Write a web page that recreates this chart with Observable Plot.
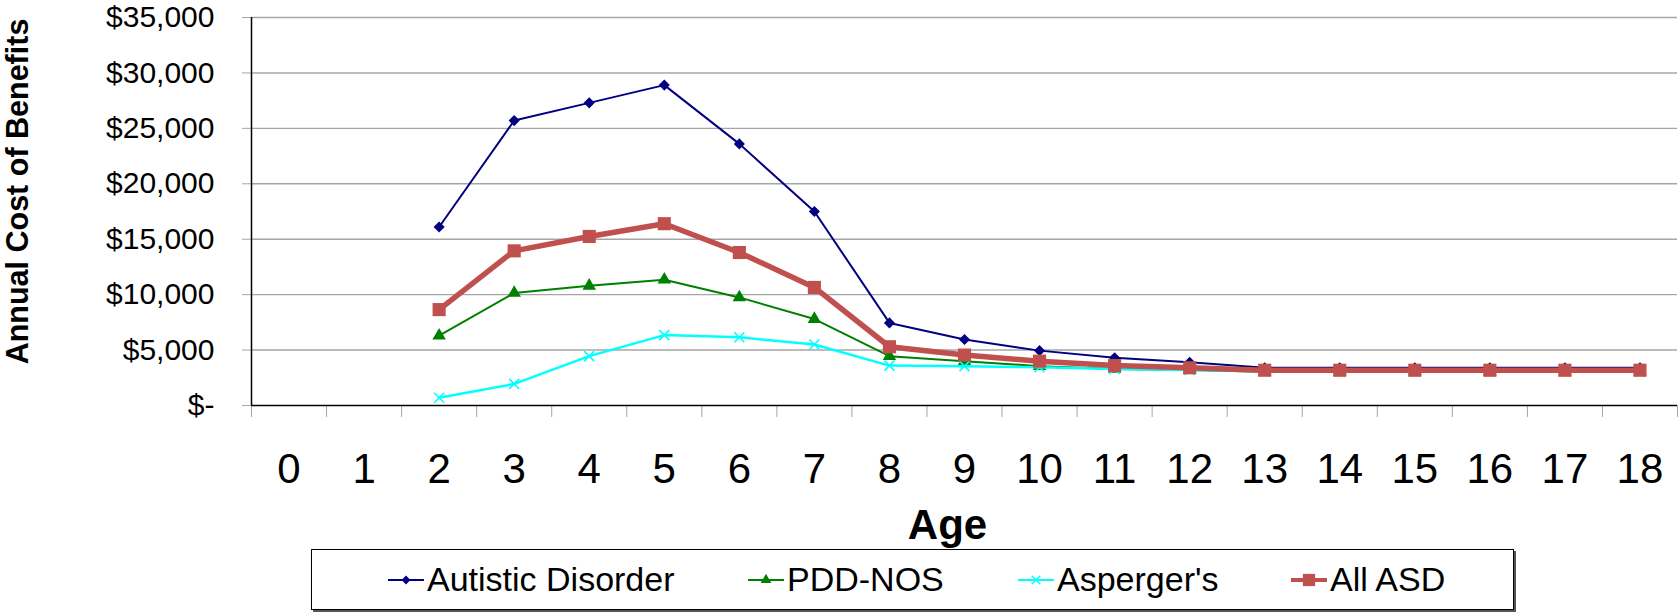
<!DOCTYPE html>
<html><head><meta charset="utf-8">
<script src="https://cdn.jsdelivr.net/npm/d3@7"></script>
<script src="https://cdn.jsdelivr.net/npm/@observablehq/plot@0.6"></script>
<style>
html,body{margin:0;padding:0;background:#fff;}
#wrap{position:relative;width:1680px;height:613px;font-family:"Liberation Sans",Arial,sans-serif;}
#wrap svg.plot{position:absolute;left:0;top:0;}
#legend{position:absolute;left:311px;top:549px;width:1203px;height:61px;border:1px solid #000;box-shadow:2px 2px 0 #555;background:#fff;box-sizing:border-box;}
.item{position:absolute;top:0;height:59px;display:flex;align-items:center;font-size:34px;color:#000;white-space:nowrap;}
.item svg{margin-right:3px;}
</style></head><body><div id="wrap"></div>
<script>
// ---- data ----
const ages = [2,3,4,5,6,7,8,9,10,11,12,13,14,15,16,17,18];
const axisAges = [0,1,2,3,4,5,6,7,8,9,10,11,12,13,14,15,16,17,18];
const seriesNames = ["Autistic Disorder","PDD-NOS","Asperger's","All ASD"];
const autisticDisorder = [16100,25700,27300,28900,23600,17500,7450,5950,4950,4300,3900,3400,3400,3400,3400,3400,3400];
const pddNos          = [6300,10150,10800,11350,9750,7800,4450,4000,3550,3300,3200,3050,3050,3050,3050,3050,3050];
const aspergers       = [700,1950,4450,6350,6150,5500,3600,3550,3450,3300,3200,3100,3100,3100,3100,3100,3100];
const allAsd          = [8650,13950,15250,16400,13800,10650,5300,4550,4000,3600,3400,3180,3180,3180,3180,3180,3180];
const yTicks = [0,5000,10000,15000,20000,25000,30000,35000];
const yTitle = "Annual Cost of Benefits";
const xTitle = "Age";

const valuesBySeries = [autisticDisorder, pddNos, aspergers, allAsd];
const styles = [
  {color:"#000080", width:2,   symbol:"diamond2", r:5.0, filled:true},
  {color:"#008000", width:2,   symbol:"triangle", r:5.0, filled:true},
  {color:"#00FFFF", width:2.5, symbol:"times",    r:4.6, filled:false},
  {color:"#C0504D", width:5.5, symbol:"square",   r:7.4, filled:true}
];
const boundaries = d3.range(-0.5, 19, 1);
const money = v => v === 0 ? "$-" : "$" + d3.format(",")(v);

const marks = [
  Plot.ruleY(yTicks.filter(v => v > 0), {stroke:"#a6a6a6", strokeWidth:1.4}),
  Plot.axisY({ticks: yTicks, tickSize: 9, tickPadding: 28, tickFormat: money, fontSize: 30, stroke:"#a6a6a6", fill:"#000", label:null}),
  Plot.axisX({ticks: boundaries, tickSize: 12, tickFormat: () => "", stroke:"#a6a6a6", label:null}),
  Plot.axisX({ticks: axisAges, tickSize: 0, tickPadding: 48, fontSize: 42, fill:"#000", label:null}),
  Plot.ruleX([-0.5], {stroke:"#000", strokeWidth:1.5}),
  Plot.ruleY([0], {stroke:"#000", strokeWidth:1.5}),
  Plot.text([yTitle], {frameAnchor:"left", rotate:-90, dx:-233, dy:-20, textAnchor:"middle", lineAnchor:"middle", fontSize:30.5, fontWeight:"bold", fill:"#000"}),
  Plot.text([xTitle], {frameAnchor:"bottom", lineAnchor:"top", dy:104, dx:-17, fontSize:42, fontWeight:"bold", fill:"#000"})
];

seriesNames.forEach((name, i) => {
  const data = ages.map((a, j) => ({age:a, value:valuesBySeries[i][j], series:name}));
  const s = styles[i];
  marks.push(Plot.line(data, {x:"age", y:"value", stroke:s.color, strokeWidth:s.width}));
  if (s.filled) {
    marks.push(Plot.dot(data, {x:"age", y:"value", symbol:() => s.symbol, r:s.r, fill:s.color, stroke:"none"}));
  } else {
    marks.push(Plot.dot(data, {x:"age", y:"value", symbol:() => s.symbol, r:s.r, stroke:s.color, strokeWidth:1.6, fill:"none"}));
  }
});

const chart = Plot.plot({
  width:1680, height:613,
  marginLeft:251, marginRight:3, marginTop:17, marginBottom:208,
  style:{fontFamily:"Liberation Sans, Arial, sans-serif", background:"#fff", color:"#000", overflow:"visible"},
  x:{type:"linear", domain:[-0.5,18.5]},
  y:{type:"linear", domain:[0,35000]},
  symbol:{type:"identity"},
  marks
});
chart.classList.add("plot");
const wrap = document.getElementById("wrap");
wrap.appendChild(chart);

// ---- legend ----
const legendX = [76, 436, 706, 979];
const legend = document.createElement("div");
legend.id = "legend";
seriesNames.forEach((name, i) => {
  const s = styles[i];
  const item = document.createElement("div");
  item.className = "item";
  item.style.left = legendX[i] + "px";
  const ns = "http://www.w3.org/2000/svg";
  const svg = document.createElementNS(ns, "svg");
  svg.setAttribute("width", 36); svg.setAttribute("height", 20);
  const line = document.createElementNS(ns, "line");
  line.setAttribute("x1", 0); line.setAttribute("x2", 36);
  line.setAttribute("y1", 10); line.setAttribute("y2", 10);
  line.setAttribute("stroke", s.color);
  line.setAttribute("stroke-width", i === 3 ? 4 : 2);
  svg.appendChild(line);
  const sym = d3.symbol().type({diamond2:d3.symbolDiamond2, triangle:d3.symbolTriangle, times:d3.symbolTimes, square:d3.symbolSquare}[s.symbol])
      .size(i === 3 ? 150 : 50);
  const p = document.createElementNS(ns, "path");
  p.setAttribute("d", sym());
  p.setAttribute("transform", "translate(18,10)");
  if (s.filled) { p.setAttribute("fill", s.color); }
  else { p.setAttribute("fill", "none"); p.setAttribute("stroke", s.color); p.setAttribute("stroke-width", 1.5); }
  svg.appendChild(p);
  item.appendChild(svg);
  const t = document.createElement("span");
  t.textContent = name;
  item.appendChild(t);
  legend.appendChild(item);
});
wrap.appendChild(legend);
</script>
</body></html>
